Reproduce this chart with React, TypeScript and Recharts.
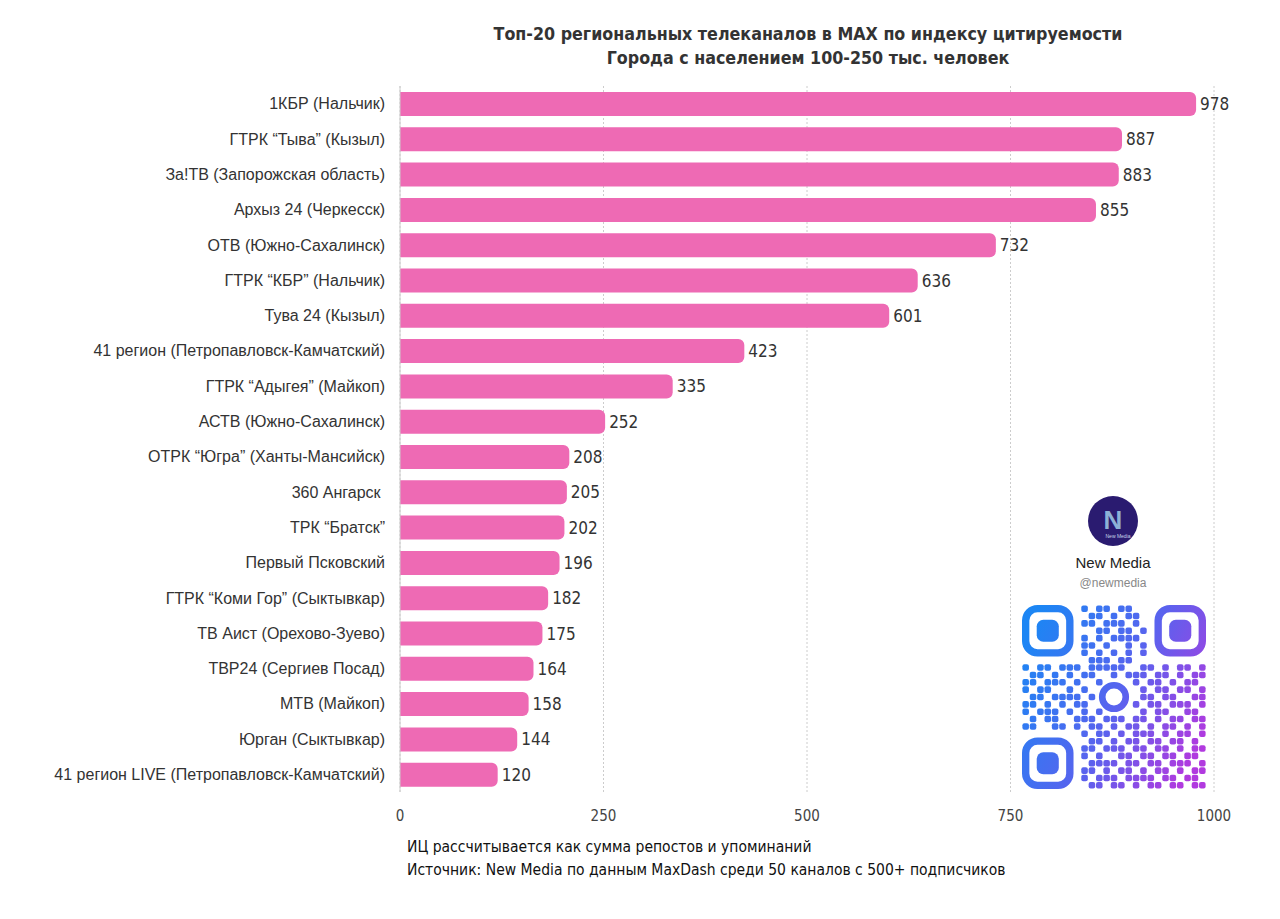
import React from "react";
import { BarChart, Bar, XAxis, YAxis, CartesianGrid, LabelList } from "recharts";

const channels = [
  "1КБР (Нальчик)",
  "ГТРК “Тыва” (Кызыл)",
  "За!ТВ (Запорожская область)",
  "Архыз 24 (Черкесск)",
  "ОТВ (Южно-Сахалинск)",
  "ГТРК “КБР” (Нальчик)",
  "Тува 24 (Кызыл)",
  "41 регион (Петропавловск-Камчатский)",
  "ГТРК “Адыгея” (Майкоп)",
  "АСТВ (Южно-Сахалинск)",
  "ОТРК “Югра” (Ханты-Мансийск)",
  "360 Ангарск\u00A0",
  "ТРК “Братск”",
  "Первый Псковский",
  "ГТРК “Коми Гор” (Сыктывкар)",
  "ТВ Аист (Орехово-Зуево)",
  "ТВР24 (Сергиев Посад)",
  "МТВ (Майкоп)",
  "Юрган (Сыктывкар)",
  "41 регион LIVE (Петропавловск-Камчатский)",
];
const citationIndex = [978, 887, 883, 855, 732, 636, 601, 423, 335, 252, 208, 205, 202, 196, 182, 175, 164, 158, 144, 120];
const xTicks = [0, 250, 500, 750, 1000];

const data = channels.map((name, i) => ({ name, value: citationIndex[i] }));

// decorative QR-like pattern (finder zones and centre are skipped when drawn)
const qrRows = [
  "0000000010110110000000000",
  "0000000001101011000000000",
  "0000000011011101000000000",
  "0000000000110110100000000",
  "0000000010101111000000000",
  "0000000011010010100000000",
  "0000000010101010100000000",
  "0000000001110110000000000",
  "1011011101111100110101101",
  "0110101011001011101101011",
  "1101110100110101011010110",
  "1011001010011010101101101",
  "0110111101101100110110011",
  "1101010110101001011011101",
  "1011101010110100101100110",
  "0101100111011101101011011",
  "1100110101101011010110101",
  "0000000010110101110101101",
  "0000000001101011011011010",
  "0000000011011101101101011",
  "0000000010100110110110110",
  "0000000001111011011011101",
  "0000000011010110101101011",
  "0000000010111011110110110",
  "0000000001101101011011011",
];

const font = "'Liberation Sans', Arial, Helvetica, sans-serif";
const narrow = "'Liberation Sans Narrow', 'DejaVu Sans Condensed', 'Liberation Sans', sans-serif";

function QrCode() {
  const n = 25;
  const size = 184;
  const m = size / n;
  const inFinder = (r: number, c: number) =>
    (r < 8 && c < 8) || (r < 8 && c > 16) || (r > 16 && c < 8);
  const cells: React.ReactNode[] = [];
  qrRows.forEach((row, r) => {
    for (let c = 0; c < n; c++) {
      if (row.charAt(c) !== "1" || inFinder(r, c)) continue;
      if ((r - 12) * (r - 12) + (c - 12) * (c - 12) < 8) continue;
      cells.push(
        <rect key={r + "-" + c} x={c * m + 0.4} y={r * m + 0.4} width={m - 0.8} height={m - 0.8} rx={2} fill="url(#qrg)" />
      );
    }
  });
  const finder = (x: number, y: number) => (
    <g key={x + "_" + y}>
      <rect x={x + m * 0.5} y={y + m * 0.5} width={m * 6} height={m * 6} rx={m * 1.6} fill="none" stroke="url(#qrg)" strokeWidth={m} />
      <rect x={x + m * 2} y={y + m * 2} width={m * 3} height={m * 3} rx={m * 0.9} fill="url(#qrg)" />
    </g>
  );
  return (
    <svg width={size} height={size} style={{ position: "absolute", left: 1014, top: 597 }}>
      <defs>
        <linearGradient id="qrg" x1="0" y1="40" x2={size} y2={130} gradientUnits="userSpaceOnUse">
          <stop offset="0" stopColor="#1C86F4" />
          <stop offset="0.55" stopColor="#5A62EE" />
          <stop offset="1" stopColor="#B13ADF" />
        </linearGradient>
      </defs>
      {finder(0, 0)}
      {finder((n - 7) * m, 0)}
      {finder(0, (n - 7) * m)}
      {cells}
      <circle cx={12.5 * m} cy={12.5 * m} r={m * 1.6} fill="none" stroke="url(#qrg)" strokeWidth={m * 0.9} />
    </svg>
  );
}

export default function App() {
  return (
    <div style={{ position: "relative", width: 1264, height: 903, background: "#fff", fontFamily: font }}>
      <div
        style={{
          position: "absolute",
          left: 0,
          width: 1600,
          top: 14,
          textAlign: "center",
          fontFamily: narrow,
          fontWeight: "bold",
          fontSize: 17.7,
          lineHeight: "24px",
          color: "#333",
        }}
      >
        Топ-20 региональных телеканалов в MAX по индексу цитируемости
        <br />
        Города с населением 100-250 тыс. человек
      </div>
      <BarChart
        width={1264}
        height={903}
        data={data}
        layout="vertical"
        margin={{ top: 78, right: 58, bottom: 89, left: 0 }}
        barCategoryGap={11}
      >
        <CartesianGrid horizontal={false} vertical={true} stroke="#ccc" strokeDasharray="2 2" />
        <XAxis
          type="number"
          domain={[0, 1000]}
          ticks={xTicks}
          axisLine={false}
          tickLine={false}
          tickMargin={12}
          height={30}
          tick={{ fill: "#444", fontSize: 15, fontFamily: narrow }}
        />
        <YAxis
          type="category"
          dataKey="name"
          width={392}
          axisLine={{ stroke: "#ccc" }}
          tickLine={false}
          tickMargin={9}
          interval={0}
          tick={{ fill: "#333", fontSize: 16, fontFamily: font }}
        />
        <Bar dataKey="value" fill="#EE6AB4" barSize={24} radius={[0, 6, 6, 0]} isAnimationActive={false}>
          <LabelList dataKey="value" position="right" offset={4} fill="#333" fontSize={17} fontFamily={narrow} />
        </Bar>
      </BarChart>
      <div style={{ position: "absolute", left: 1080, top: 488, width: 50, height: 50 }}>
        <svg width={50} height={50}>
          <circle cx={25} cy={25} r={25} fill="#2A1B70" />
          <text x={25} y={33} textAnchor="middle" fontSize={26} fontWeight="bold" fill="#8DB2D6" fontFamily={font}>
            N
          </text>
          <text x={30} y={42} textAnchor="middle" fontSize={5} fill="#C9D6EA" fontFamily={font}>
            New Media
          </text>
        </svg>
      </div>
      <div style={{ position: "absolute", left: 1005, width: 200, top: 546, textAlign: "center", fontSize: 15, fontWeight: 500, color: "#222" }}>
        New Media
      </div>
      <div style={{ position: "absolute", left: 1005, width: 200, top: 568, textAlign: "center", fontSize: 12, color: "#888" }}>
        @newmedia
      </div>
      <QrCode />
      <div style={{ position: "absolute", left: 399, top: 828, fontFamily: narrow, fontSize: 15.5, lineHeight: "23px", color: "#111" }}>
        ИЦ рассчитывается как сумма репостов и упоминаний
        <br />
        Источник: New Media по данным MaxDash среди 50 каналов с 500+ подписчиков
      </div>
    </div>
  );
}
